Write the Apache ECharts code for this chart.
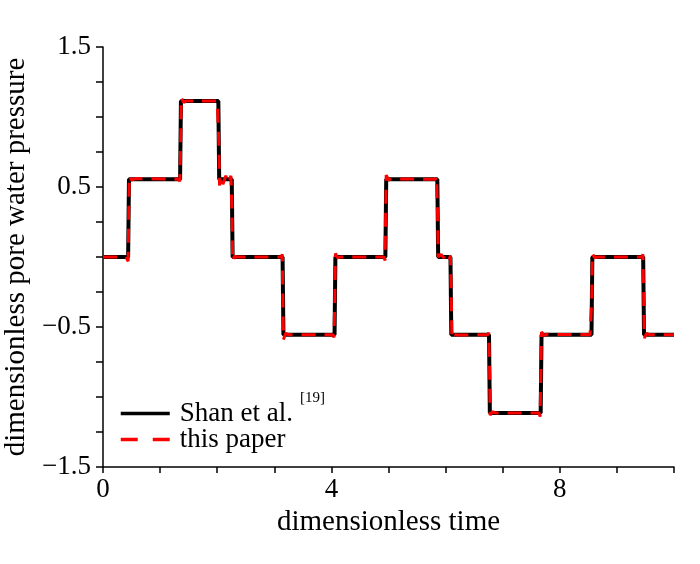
<!DOCTYPE html>
<html>
<head>
<meta charset="utf-8">
<title>pore water pressure</title>
<script src="https://cdn.jsdelivr.net/npm/echarts@6/dist/echarts.min.js"></script>
<style>
    html, body { margin: 0; padding: 0; background: #fff; }
    #charts { width: 700px; height: 564px; }
</style>
</head>
<body>
<div id="charts"></div>
<script>
// Shan et al. [19] - corner points of the step curve
var shanT = [0, 0.44, 0.455, 1.35, 1.365, 2.02, 2.035, 2.255, 2.27, 3.145, 3.16, 4.055, 4.07,
    4.945, 4.96, 5.855, 5.87, 6.085, 6.1, 6.76, 6.775, 7.665, 7.68, 8.555, 8.57, 9.46, 9.475, 10];
var shanP = [0, 0, 0.556, 0.556, 1.115, 1.115, 0.556, 0.556, 0, 0, -0.555, -0.555, 0,
    0, 0.556, 0.556, 0, 0, -0.555, -0.555, -1.115, -1.115, -0.555, -0.555, 0, 0, -0.555, -0.555];

// this paper - same steps with the small wiggles at each jump
var paperT = [0, 0.40, 0.42, 0.44, 0.45, 0.46, 0.50, 0.56,
    1.33, 1.345, 1.36, 1.37, 1.41, 1.46,
    2.00, 2.02, 2.03, 2.04, 2.07, 2.10, 2.15, 2.20, 2.24, 2.26, 2.27, 2.30, 2.35,
    3.12, 3.14, 3.15, 3.16, 3.20, 3.25,
    4.03, 4.045, 4.06, 4.07, 4.11, 4.16,
    4.92, 4.94, 4.95, 4.96, 5.00, 5.05,
    5.82, 5.84, 5.86, 5.87, 5.92, 5.96, 6.02, 6.06, 6.085, 6.10, 6.11, 6.15, 6.20,
    6.74, 6.755, 6.77, 6.78, 6.82, 6.88,
    7.64, 7.655, 7.67, 7.68, 7.72, 7.77,
    8.53, 8.545, 8.56, 8.57, 8.61, 8.66,
    9.44, 9.455, 9.47, 9.48, 9.52, 9.57, 10];
var paperP = [0, 0, 0.01, -0.03, 0.3, 0.58, 0.55, 0.56,
    0.555, 0.54, 0.8, 1.14, 1.105, 1.115,
    1.115, 1.12, 0.8, 0.51, 0.58, 0.52, 0.58, 0.53, 0.58, 0.3, -0.03, 0.005, 0,
    0, 0.02, -0.3, -0.59, -0.545, -0.555,
    -0.555, -0.575, -0.3, 0.025, -0.005, 0,
    0, -0.025, 0.3, 0.585, 0.55, 0.558,
    0.555, 0.575, 0.3, 0, 0.02, -0.005, 0.02, -0.02, 0.01, -0.3, -0.58, -0.55, -0.557,
    -0.555, -0.54, -0.8, -1.13, -1.105, -1.115,
    -1.115, -1.14, -0.8, -0.535, -0.56, -0.552,
    -0.555, -0.545, -0.3, 0.025, -0.005, 0,
    0, 0.02, -0.3, -0.58, -0.545, -0.555, -0.555];

var xLabels = [0, 4, 8];
var yLabels = [-1.5, -0.5, 0.5, 1.5];

var serif = 'Liberation Serif';

function zip(a, b) {
    var out = [];
    for (var i = 0; i < a.length; i++) {
        out.push([a[i], b[i]]);
    }
    return out;
}

function hasLabel(list, v) {
    for (var i = 0; i < list.length; i++) {
        if (Math.abs(list[i] - v) < 1e-6) return true;
    }
    return false;
}

var charts = echarts.init(document.getElementById('charts'));

var option = {
    backgroundColor: '#fff',
    animation: false,
    grid: { left: 103, right: 26, top: 47, bottom: 97, outerBoundsMode: 'none', containLabel: false },
    legend: {
        orient: 'vertical',
        left: 119,
        top: 391,
        padding: 0,
        itemWidth: 49,
        itemHeight: 14,
        itemGap: -1,
        itemStyle: { opacity: 0 },
        data: [
            { name: 'Shan et al.', lineStyle: { color: '#000', width: 3.5 } },
            { name: 'this paper', lineStyle: { color: '#ff0000', width: 3.5, type: [17, 15] } }
        ],
        formatter: function (name) {
            if (name === 'Shan et al.') return '{t|Shan et al.}{s|[19]}';
            return '{t|' + name + '}';
        },
        textStyle: {
            padding: [0, 0, 0, 5],
            rich: {
                t: { fontFamily: serif, fontSize: 27, color: '#000', lineHeight: 27 },
                s: { fontFamily: serif, fontSize: 15, color: '#000', padding: [0, 0, 30, 7], verticalAlign: 'bottom' }
            }
        }
    },
    xAxis: {
        type: 'value',
        min: 0,
        max: 10,
        interval: 1,
        name: 'dimensionless time',
        nameLocation: 'middle',
        nameGap: 38,
        nameTextStyle: { fontFamily: serif, fontSize: 29, color: '#000' },
        axisLine: { onZero: false, lineStyle: { color: '#000', width: 1.5 } },
        axisTick: { length: 6, lineStyle: { color: '#000', width: 1.5 } },
        axisLabel: {
            margin: 9,
            fontFamily: serif, fontSize: 27, color: '#000',
            formatter: function (v) { return hasLabel(xLabels, v) ? String(v) : ''; }
        },
        splitLine: { show: false }
    },
    yAxis: {
        type: 'value',
        min: -1.5,
        max: 1.5,
        interval: 0.25,
        name: 'dimensionless pore water pressure',
        nameLocation: 'middle',
        nameGap: 68,
        nameTextStyle: { fontFamily: serif, fontSize: 29, color: '#000' },
        axisLine: { onZero: false, lineStyle: { color: '#000', width: 1.5 } },
        axisTick: { length: 7, lineStyle: { color: '#000', width: 1.5 } },
        axisLabel: {
            margin: 12,
            fontFamily: serif, fontSize: 27, color: '#000',
            formatter: function (v) {
                if (!hasLabel(yLabels, v)) return '';
                return (v < 0 ? '\u2212' : '') + Math.abs(v).toFixed(1);
            }
        },
        splitLine: { show: false }
    },
    series: [
        {
            name: 'Shan et al.',
            type: 'line',
            showSymbol: false,
            symbol: 'none',
            data: zip(shanT, shanP),
            lineStyle: { color: '#000', width: 4 },
            itemStyle: { color: '#000' }
        },
        {
            name: 'this paper',
            type: 'line',
            showSymbol: false,
            symbol: 'none',
            data: zip(paperT, paperP),
            lineStyle: { color: '#ff0000', width: 3, type: [14, 9] },
            itemStyle: { color: '#ff0000' }
        }
    ]
};
charts.setOption(option);

window.onresize = function () {
    charts.resize();
};
</script>
</body>
</html>
